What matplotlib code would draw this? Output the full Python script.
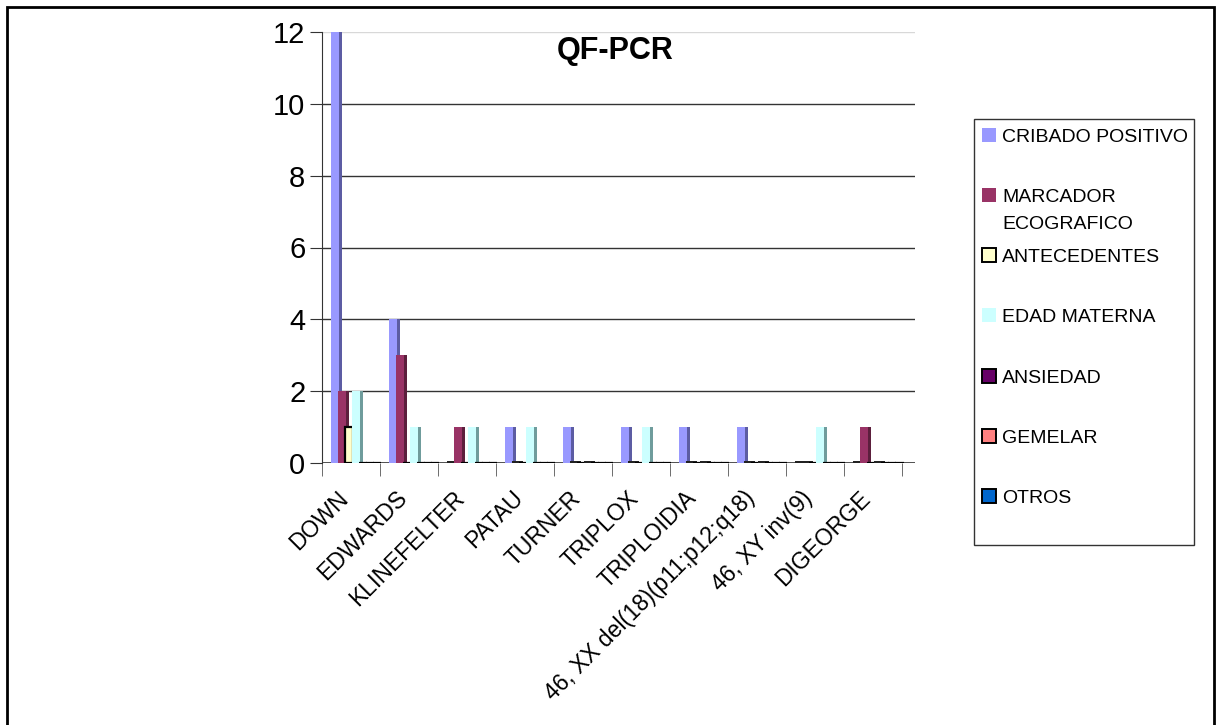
import matplotlib
matplotlib.use("Agg")
import matplotlib.pyplot as plt
import matplotlib.transforms as mtransforms
from matplotlib.patches import Rectangle
import numpy as np

plt.rcParams['font.family'] = ['Liberation Sans', 'DejaVu Sans']

categories = ["DOWN", "EDWARDS", "KLINEFELTER", "PATAU", "TURNER", "TRIPLOX",
              "TRIPLOIDIA", "46, XX del(18)(p11;p12;q18)", "46, XY inv(9)", "DIGEORGE"]
series_names = ["CRIBADO POSITIVO", "MARCADOR\nECOGRAFICO", "ANTECEDENTES",
                "EDAD MATERNA", "ANSIEDAD", "GEMELAR", "OTROS"]
cribado = [12, 4, 0, 1, 1, 1, 1, 1, 0, 0]
marcador = [2, 3, 1, 0, 0, 0, 0, 0, 0, 1]
antecedentes = [1, 0, 0, 0, 0, 0, 0, 0, 0, 0]
edad = [2, 1, 1, 1, 0, 1, 0, 0, 1, 0]
ansiedad = [0, 0, 0, 0, 0, 0, 0, 0, 0, 0]
gemelar = [0, 0, 0, 0, 0, 0, 0, 0, 0, 0]
otros = [0, 0, 0, 0, 0, 0, 0, 0, 0, 0]
series = [cribado, marcador, antecedentes, edad, ansiedad, gemelar, otros]
yticks = [0, 2, 4, 6, 8, 10, 12]

front_colors = ["#9999FF", "#993366", "#FFFFCC", "#CCFFFF", "#660066", "#FF8080", "#0066CC"]
side_colors = ["#5C5CA3", "#5C1F3D", "#A3A37A", "#6F9C9C", "#330033", "#994D4D", "#003D7A"]
edge_colors = [None, None, "black", None, "black", "black", "black"]

W, H = 1221, 725
fig = plt.figure(figsize=(W / 100, H / 100), dpi=100)

# outer frame
fig.patches.append(Rectangle((7 / W, -0.02), (1214 - 7) / W, (725 - 7) / H + 0.02,
                             transform=fig.transFigure, fill=False, ec="black", lw=2))

ax = fig.add_axes([322 / W, (H - 463) / H, (915 - 322) / W, (463 - 32) / H])
ax.set_xlim(0, 10.22)
ax.set_ylim(0, 12)
for y in yticks[1:-1]:
    ax.axhline(y, color="#333333", lw=1.0, zorder=0)
ax.axhline(12, color="#D8D8D8", lw=1.0, zorder=0)

x = np.arange(len(categories))
front_w = 0.14
side_w = 0.05
step = 0.122
start = 0.15
for i, vals in enumerate(series):
    left = x + start + i * step
    vals = np.array(vals, dtype=float)
    if edge_colors[i]:
        ax.bar(left, vals, width=front_w, align="edge", color=front_colors[i],
               edgecolor="black", lw=1.6, zorder=3 + i)
    else:
        ax.bar(left, vals, width=front_w, align="edge", color=front_colors[i],
               lw=0, zorder=3 + i)
        ax.bar(left, np.where(vals == 0, 0.06, 0), width=front_w + side_w, align="edge",
               color="#222222", lw=0, zorder=3 + i)
    ax.bar(left + front_w, vals, width=side_w, align="edge", color=side_colors[i],
           lw=0, zorder=3 + i)

for s in ["top", "right", "bottom"]:
    ax.spines[s].set_visible(False)
ax.spines["left"].set_color("#333333")
ax.axhline(0, color="#333333", lw=1.2, zorder=2)

ax.set_yticks(yticks)
ax.set_yticklabels([str(v) for v in yticks], fontsize=21)
ax.tick_params(axis="y", length=9, color="#333333", pad=3)

ax.set_xticks(np.arange(0, 11), minor=True)
ax.tick_params(axis="x", which="minor", length=9, color="#555555", direction="out")
ax.set_xticks(x + 0.5)
ax.set_xticklabels(categories, rotation=45, ha="right", va="top",
                   rotation_mode="anchor", fontsize=16.5)
ax.tick_params(axis="x", which="major", length=0, pad=17)
offset = mtransforms.ScaledTranslation(-14 / 100, 0, fig.dpi_scale_trans)
for lab in ax.get_xticklabels():
    lab.set_transform(lab.get_transform() + offset)

fig.text(615 / W, 1 - 51 / H, "QF-PCR", fontsize=22, fontweight="bold",
         ha="center", va="center")

# legend
fig.patches.append(Rectangle((974 / W, 1 - 545 / H), (1194 - 974) / W, (545 - 119) / H,
                             transform=fig.transFigure, fill=False, ec="#333333", lw=1))
ys = [135, 195, 255, 315, 376, 436, 496]
for i, name in enumerate(series_names):
    yy = ys[i]
    sz = 14
    ec = "black" if edge_colors[i] else "none"
    fig.patches.append(Rectangle((982 / W, 1 - (yy + sz / 2) / H), sz / W, sz / H,
                                 transform=fig.transFigure, fc=front_colors[i],
                                 ec=ec, lw=1.4))
    for k, line in enumerate(name.split("\n")):
        fig.text(1002 / W, 1 - (yy + 7 + 27 * k) / H, line, fontsize=14,
                 ha="left", va="baseline")

fig.savefig("out.png", dpi=100)
